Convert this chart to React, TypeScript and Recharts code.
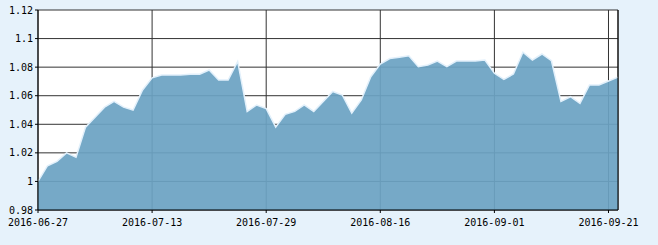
import { AreaChart, Area, XAxis, YAxis, CartesianGrid, ReferenceLine } from 'recharts';

const dates = [
    '2016-06-27', '2016-06-28', '2016-06-29', '2016-06-30', '2016-07-01',
    '2016-07-04', '2016-07-05', '2016-07-06', '2016-07-07', '2016-07-08',
    '2016-07-11', '2016-07-12', '2016-07-13', '2016-07-14', '2016-07-15',
    '2016-07-18', '2016-07-19', '2016-07-20', '2016-07-21', '2016-07-22',
    '2016-07-25', '2016-07-26', '2016-07-27', '2016-07-28', '2016-07-29',
    '2016-08-01', '2016-08-02', '2016-08-03', '2016-08-04', '2016-08-05',
    '2016-08-08', '2016-08-09', '2016-08-10', '2016-08-11', '2016-08-12',
    '2016-08-15', '2016-08-16', '2016-08-17', '2016-08-18', '2016-08-19',
    '2016-08-22', '2016-08-23', '2016-08-24', '2016-08-25', '2016-08-26',
    '2016-08-29', '2016-08-30', '2016-08-31', '2016-09-01', '2016-09-02',
    '2016-09-05', '2016-09-06', '2016-09-07', '2016-09-08', '2016-09-09',
    '2016-09-12', '2016-09-13', '2016-09-14', '2016-09-19', '2016-09-20',
    '2016-09-21', '2016-09-22',
];

const values = [
    1.0, 1.011, 1.014, 1.02, 1.017,
    1.038, 1.045, 1.052, 1.056, 1.052,
    1.05, 1.064, 1.0725, 1.0745, 1.0745,
    1.0745, 1.075, 1.075, 1.078, 1.071,
    1.071, 1.084, 1.049, 1.0535, 1.051,
    1.038, 1.047, 1.049, 1.0535, 1.049,
    1.056, 1.063, 1.0605, 1.0478, 1.057,
    1.0733, 1.0822, 1.086, 1.087, 1.088,
    1.0803, 1.0815, 1.0843, 1.0803, 1.0843,
    1.0843, 1.0843, 1.085, 1.0757, 1.0715,
    1.0752, 1.0904, 1.085, 1.0892, 1.0845,
    1.056, 1.0593, 1.0547, 1.0675, 1.0675,
    1.0703, 1.073,
];

const xTicks = ['2016-06-27', '2016-07-13', '2016-07-29', '2016-08-16', '2016-09-01', '2016-09-21'];
const yTicks = [0.98, 1, 1.02, 1.04, 1.06, 1.08, 1.1, 1.12];

const data = dates.map((d, i) => ({ date: d, value: values[i] }));

const tickFont = { fontFamily: 'DejaVu Sans Mono', fontSize: 10, fill: '#000' };

function App() {
    return (
        <div style={{ position: 'fixed', left: 0, top: 0, width: 658, height: 245, background: '#e6f2fb' }}>
            <AreaChart width={658} height={245} data={data} margin={{ top: 10, right: 40, bottom: 15, left: 0 }}>
                <CartesianGrid stroke="#333" fill="#fff" fillOpacity={1} />
                <XAxis
                    dataKey="date"
                    ticks={xTicks}
                    interval={0}
                    height={20}
                    tickSize={3}
                    tickMargin={6}
                    axisLine={{ stroke: '#000' }}
                    tickLine={{ stroke: '#000' }}
                    tick={tickFont}
                />
                <YAxis
                    domain={[0.98, 1.12]}
                    ticks={yTicks}
                    width={38}
                    tickSize={3}
                    tickMargin={2}
                    axisLine={{ stroke: '#000' }}
                    tickLine={{ stroke: '#000' }}
                    tick={tickFont}
                    allowDataOverflow
                />
                <Area
                    type="linear"
                    dataKey="value"
                    baseValue={0.98}
                    stroke="#e2f0fb"
                    strokeWidth={1.5}
                    fill="#6ca3c3"
                    fillOpacity={0.93}
                    dot={false}
                    activeDot={false}
                    isAnimationActive={false}
                />
                <ReferenceLine x="2016-09-22" stroke="#000" />
            </AreaChart>
        </div>
    );
}

export default App;
